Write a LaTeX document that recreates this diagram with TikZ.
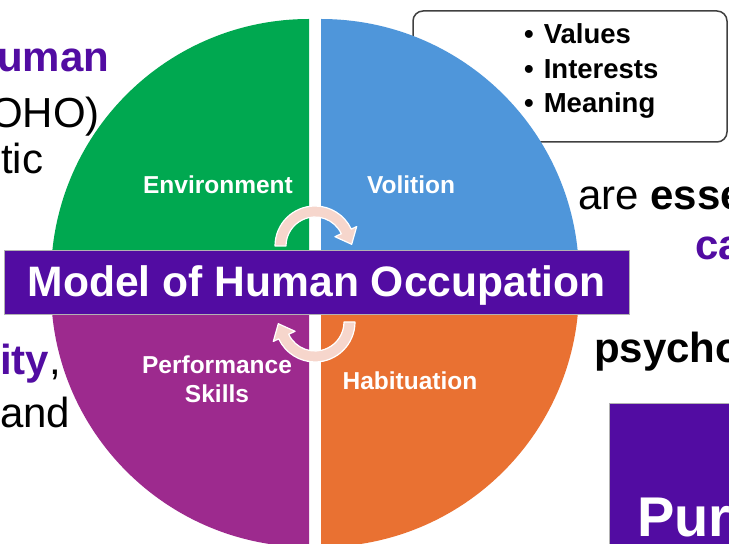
\documentclass[tikz,border=0pt]{standalone}
\usepackage{fontspec}
\setmainfont{Liberation Sans}
\usetikzlibrary{positioning}
\definecolor{envgreen}{RGB}{0,168,80}
\definecolor{volblue}{RGB}{79,150,218}
\definecolor{perfpurple}{RGB}{157,42,142}
\definecolor{haborange}{RGB}{233,113,50}
\definecolor{mohopurple}{RGB}{82,12,162}
\definecolor{arrowpink}{RGB}{246,214,204}
\newcommand{\slide}[1]{\fontsize{#1}{1.2\dimexpr#1pt\relax}\selectfont}

\begin{document}
\begin{tikzpicture}
	[x=1pt, y=1pt,
	 lbl/.style={text=white, font=\bfseries\slide{24.5}, align=center},
	 side/.style={anchor=base west, inner sep=0, font=\slide{42}},
	 item/.style={anchor=base west, inner sep=0, font=\bfseries\slide{27.5}},
	 cyc/.style={fill=arrowpink, draw=white, line width=1.2pt, line join=round},
	 cycle arrow/.pic={
	   \filldraw[cyc] (180:29) -- (180:40) arc[start angle=180, end angle=25, radius=40]
	     -- (25:46) -- (36.7,1.7) -- (25:22) -- (25:29)
	     arc[start angle=25, end angle=180, radius=29] -- cycle;}]
	\useasboundingbox (0,0) rectangle (729,544);
	\clip (0,0) rectangle (729,544);

	% box of volition items
	\draw[rounded corners=10pt, draw=black!75, line width=1.5pt] (413,533) rectangle (727,402);
	\node[item] (val) at (524,500) {\textbullet\hspace{10pt}Values};
	\node[item] (int) at (524,465) {\textbullet\hspace{10pt}Interests};
	\node[item] (mea) at (524,431) {\textbullet\hspace{10pt}Meaning};

	% the four quarters
	\coordinate (c) at (315,261);
	\fill[envgreen] ([shift={(-6,6)}]c) -- ++(180:258) arc[start angle=180, end angle=90, radius=258] -- cycle;
	\fill[volblue] ([shift={(6,6)}]c) -- ++(90:258) arc[start angle=90, end angle=0, radius=258] -- cycle;
	\fill[haborange] ([shift={(6,-6)}]c) -- ++(0:258) arc[start angle=0, end angle=-90, radius=258] -- cycle;
	\fill[perfpurple] ([shift={(-6,-6)}]c) -- ++(-90:258) arc[start angle=-90, end angle=-180, radius=258] -- cycle;

	\node[lbl] (env) at (218,359) {Environment};
	\node[lbl] (vol) at (411,359) {Volition};
	\node[lbl] (perf) at (217,165) {Performance\\Skills};
	\node[lbl] (hab) at (410,163) {Habituation};

	\pic at (315,298) {cycle arrow};
	\pic[rotate=180] at (315,222) {cycle arrow};

	\node[draw=black!30, fill=mohopurple, text=white, font=\bfseries\slide{42.6},
	      text height=30pt, text depth=0pt,
	      minimum width=625pt, minimum height=64pt, inner sep=0] (moho) at (316.5,262) {Model of Human Occupation};

	% slide text round the picture
	\node[side, text=mohopurple, font=\bfseries\slide{42}] (hum) at (-3,472) {uman};
	\node[side] (oho) at (-10,416) {OHO)};
	\node[side] (tic) at (1,370) {tic};
	\node[side] (ity) at (0,169) {\textcolor{mohopurple}{\bfseries ity},};
	\node[side] (and) at (0,116) {and};
	\node[side] (are) at (578,334) {are \textbf{esse}};
	\node[side, text=mohopurple, font=\bfseries\slide{42}] (ca) at (695,284) {ca};
	\node[side, font=\bfseries\slide{42}] (psy) at (594,181) {psycho};
	\filldraw[fill=mohopurple, draw=black!30] (609,141) rectangle (740,-10);
	\node[side, text=white, font=\bfseries\slide{56}] (pur) at (637,7) {Pur};
\end{tikzpicture}
\end{document}
